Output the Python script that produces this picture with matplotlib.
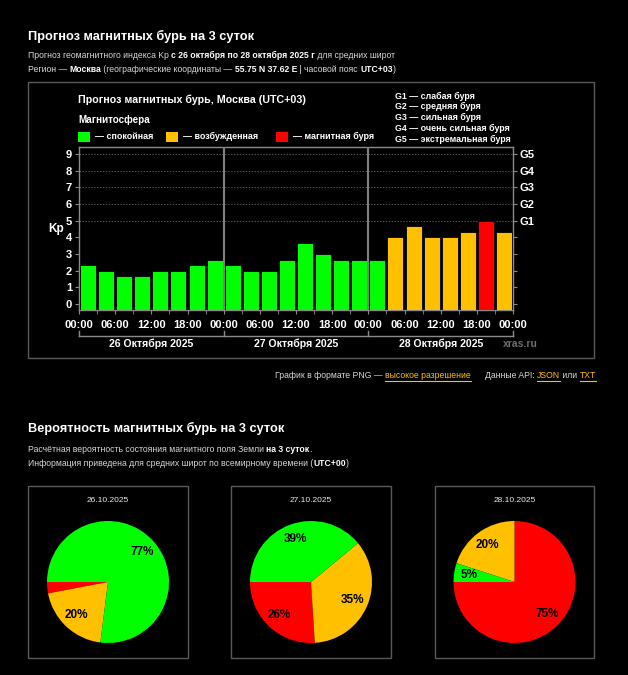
"""
Magnetic storm forecast page: Kp bar chart and three probability pies.
"""

import matplotlib
matplotlib.use("Agg")
import matplotlib.pyplot as plt
from matplotlib.patches import Rectangle
from matplotlib.lines import Line2D

plt.rcParams['font.family'] = ['Liberation Sans', 'DejaVu Sans']

W, H = 628, 675

# Kp forecast, 3-hour intervals, 26-28 Oct 2025
kp_values = [2.33, 2.0, 1.67, 1.67, 2.0, 2.0, 2.33, 2.67,
             2.33, 2.0, 2.0, 2.67, 3.67, 3.0, 2.67, 2.67,
             2.67, 4.0, 4.67, 4.0, 4.0, 4.33, 5.0, 4.33]
day_labels = ['26 Октября 2025', '27 Октября 2025', '28 Октября 2025']
hour_labels = ['00:00', '06:00', '12:00', '18:00'] * 3 + ['00:00']
g_labels = ['G1', 'G2', 'G3', 'G4', 'G5']
g_legend = ['G1 — слабая буря', 'G2 — средняя буря', 'G3 — сильная буря',
            'G4 — очень сильная буря', 'G5 — экстремальная буря']

# probability pies: red (storm), yellow (active), green (quiet)
pie_dates = ['26.10.2025', '27.10.2025', '28.10.2025']
pie_red = [3, 26, 75]
pie_yellow = [20, 35, 20]
pie_green = [77, 39, 5]

GREEN = '#00ff00'
YELLOW = '#ffc000'
RED = '#ff0000'
TEXT = '#d8d8d8'
BORDER = '#5a5a5a'
SMALL = 6.25


def kp_color(v):
    if v >= 5:
        return RED
    if v >= 4:
        return YELLOW
    return GREEN


fig = plt.figure(figsize=(W / 100, H / 100), dpi=100, facecolor='black')
renderer = fig.canvas.get_renderer()


def fx(x):
    return x / W


def fy(y):
    return 1 - y / H


def text_width(s, size, weight):
    # measure including leading/trailing spaces
    t = fig.text(0, 0, '|' + s + '|', fontsize=size, fontweight=weight)
    w1 = t.get_window_extent(renderer).width
    t.remove()
    t = fig.text(0, 0, '||', fontsize=size, fontweight=weight)
    w0 = t.get_window_extent(renderer).width
    t.remove()
    return w1 - w0


def rich(x, y, parts, size):
    """Draw a line made of (text, weight, color, underline) parts."""
    for txt, weight, color, underline in parts:
        w = text_width(txt, size, weight)
        fig.text(fx(x), fy(y), txt, fontsize=size, fontweight=weight,
                 color=color, va='center', ha='left')
        if underline:
            fig.add_artist(Line2D([fx(x), fx(x + w)], [fy(y + 6), fy(y + 6)],
                                  color=color, lw=0.8))
        x += w
    return x


def box(x0, y0, x1, y1):
    fig.add_artist(Rectangle((fx(x0), fy(y1)), fx(x1) - fx(x0), fy(y0) - fy(y1),
                             fill=False, edgecolor=BORDER, lw=1.0))


# ---- section 1 header ----
fig.text(fx(28), fy(36), 'Прогноз магнитных бурь на 3 суток', fontsize=9.2,
         fontweight='bold', color='white', va='center')
rich(28, 55, [('Прогноз геомагнитного индекса Kp ', 'normal', TEXT, False),
              ('с 26 октября по 28 октября 2025 г', 'bold', 'white', False),
              (' для средних широт', 'normal', TEXT, False)], SMALL)
rich(28, 70, [('Регион — ', 'normal', TEXT, False),
              ('Москва', 'bold', 'white', False),
              (' (географические координаты — ', 'normal', TEXT, False),
              ('55.75 N 37.62 E', 'bold', 'white', False),
              (' | часовой пояс ', 'normal', TEXT, False),
              ('UTC+03', 'bold', 'white', False),
              (')', 'normal', TEXT, False)], SMALL)

box(28, 82, 594, 358)

# chart title and legend
fig.text(fx(78), fy(100), 'Прогноз магнитных бурь, Москва (UTC+03)', fontsize=7.7,
         fontweight='bold', color='white', va='center')
fig.text(fx(78), fy(120), 'Магнитосфера', fontsize=7.1, fontweight='bold',
         color='white', va='center')
legend_items = [(78, GREEN, '— спокойная'), (166, YELLOW, '— возбужденная'),
                (276, RED, '— магнитная буря')]
for lx, col, lab in legend_items:
    fig.add_artist(Rectangle((fx(lx), fy(142)), 12 / W, 10 / H, facecolor=col,
                             edgecolor='none'))
    fig.text(fx(lx + 17), fy(136.5), lab, fontsize=6.5, fontweight='bold',
             color='white', va='center')
for i, lab in enumerate(g_legend):
    fig.text(fx(395), fy(96 + i * 10.8), lab, fontsize=6.4, fontweight='bold',
             color='white', va='center')

# ---- Kp bar chart ----
ax_l, ax_r, ax_t, ax_b = 79, 513, 147, 310
ax = fig.add_axes([fx(ax_l), fy(ax_b), (ax_r - ax_l) / W, (ax_b - ax_t) / H])
ax.set_facecolor('black')
ymin, ymax = -0.36, 9.42
ax.set_xlim(0, 72)
ax.set_ylim(ymin, ymax)

centers = [1.5 + 3 * i for i in range(len(kp_values))]
heights = [v - ymin for v in kp_values]
ax.bar(centers, heights, bottom=ymin, width=2.65,
       color=[kp_color(v) for v in kp_values], edgecolor='black', lw=0.6, zorder=3)

for g in range(5, 10):
    ax.axhline(g, color='#555555', lw=0.7, ls=(0, (1.5, 1.5)), zorder=1)
for d in (24, 48):
    ax.axvline(d, color='#808080', lw=1.5, zorder=4)

for s in ax.spines.values():
    s.set_color('#8a8a8a')
    s.set_linewidth(1.0)

ax.set_yticks(range(10))
ax.set_yticklabels([str(i) for i in range(10)])
ax.tick_params(axis='y', colors='#8a8a8a', labelcolor='white', length=3,
               labelsize=8, pad=2)
for lab in ax.get_yticklabels():
    lab.set_fontweight('bold')

ax.set_xticks(range(0, 73, 6))
ax.set_xticklabels(hour_labels)
ax.set_xticks(range(3, 72, 6), minor=True)
ax.tick_params(axis='x', which='both', colors='#8a8a8a', labelcolor='white',
               length=3, labelsize=8, pad=4)
for lab in ax.get_xticklabels():
    lab.set_fontweight('bold')

axr = ax.twinx()
axr.set_ylim(ymin, ymax)
axr.set_yticks(range(10))
axr.set_yticklabels([''] * 5 + g_labels)
axr.tick_params(axis='y', colors='#8a8a8a', labelcolor='white', length=3,
                labelsize=8, pad=2)
for lab in axr.get_yticklabels():
    lab.set_fontweight('bold')
for s in axr.spines.values():
    s.set_visible(False)

fig.text(fx(56), fy(229), 'Kp', fontsize=8.5, fontweight='bold', color='white',
         ha='center', va='center')

# day bracket under the time axis
x_day = [ax_l + (ax_r - ax_l) * d / 3 for d in range(4)]
fig.add_artist(Line2D([fx(x_day[0]), fx(x_day[-1])], [fy(336), fy(336)],
                      color='#8a8a8a', lw=1.0))
for xd in x_day:
    fig.add_artist(Line2D([fx(xd), fx(xd)], [fy(331), fy(336)],
                          color='#8a8a8a', lw=1.0))
for i, lab in enumerate(day_labels):
    fig.text(fx((x_day[i] + x_day[i + 1]) / 2), fy(344), lab, fontsize=7.6,
             fontweight='bold', color='white', ha='center', va='center')
fig.text(fx(503), fy(344), 'xras.ru', fontsize=7.5, fontweight='bold',
         color='#6e6e6e', va='center')

# links line
rich(275, 375, [('График в формате PNG — ', 'normal', TEXT, False),
                ('высокое разрешение', 'normal', YELLOW, True)], SMALL)
rich(485, 375, [('Данные API: ', 'normal', TEXT, False),
                ('JSON', 'normal', YELLOW, True),
                (' или ', 'normal', TEXT, False),
                ('TXT', 'normal', YELLOW, True)], SMALL)

# ---- section 2 ----
fig.text(fx(28), fy(428), 'Вероятность магнитных бурь на 3 суток', fontsize=9.2,
         fontweight='bold', color='white', va='center')
rich(28, 449, [('Расчётная вероятность состояния магнитного поля Земли ', 'normal',
                TEXT, False),
               ('на 3 суток', 'bold', 'white', False),
               ('.', 'normal', TEXT, False)], SMALL)
rich(28, 464, [('Информация приведена для средних широт по всемирному времени (',
                'normal', TEXT, False),
               ('UTC+00', 'bold', 'white', False),
               (')', 'normal', TEXT, False)], SMALL)

box_x = [(28, 188), (231, 391), (435, 594)]
r = 61
cy = 582
for i, (bx0, bx1) in enumerate(box_x):
    box(bx0, 486, bx1, 658)
    cx = (bx0 + bx1) / 2
    fig.text(fx(cx), fy(501), pie_dates[i], fontsize=6.0, color='#e4ecf4',
             ha='center', va='center')
    pax = fig.add_axes([fx(cx - r), fy(cy + r), 2 * r / W, 2 * r / H])
    vals = [pie_red[i], pie_yellow[i], pie_green[i]]
    pax.pie(vals, colors=[RED, YELLOW, GREEN], startangle=180, counterclock=True,
            autopct=lambda p: f'{p:.0f}%' if p >= 4 else '', pctdistance=0.75,
            textprops=dict(fontsize=8.5, fontweight='bold', color='black'),
            wedgeprops=dict(linewidth=0))
    pax.set_xlim(-1, 1)
    pax.set_ylim(-1, 1)
    pax.set_aspect('equal')

fig.savefig('out.png', dpi=100, facecolor='black')
